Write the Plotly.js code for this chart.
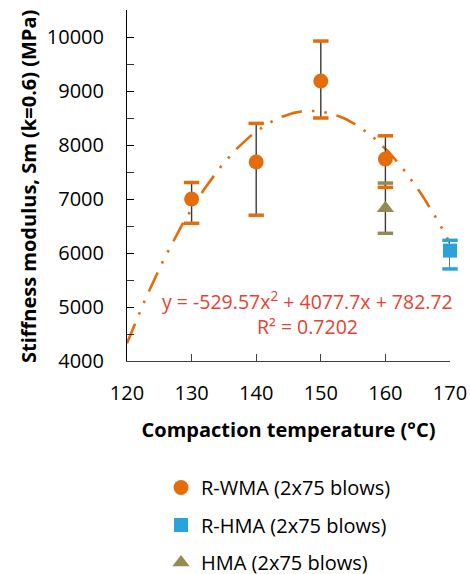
<!DOCTYPE html>
<html>
<head>
<meta charset="utf-8">
<script src="https://cdn.plot.ly/plotly-3.0.1.min.js"></script>
<style>html,body{margin:0;padding:0;background:#fff;}#chart{width:470px;height:574px;}</style>
</head>
<body>
<div id="chart"></div>
<script>
// Data
const rwmaTemp = [130, 140, 150, 160];
const rwmaSm = [7000, 7685, 9185, 7740];
const rwmaErrPlus = [305, 715, 740, 430];
const rwmaErrMinus = [450, 985, 685, 525];

const rhmaTemp = [170];
const rhmaSm = [6045];
const rhmaErrPlus = [190];
const rhmaErrMinus = [340];

const hmaTemp = [160];
const hmaSm = [6830];
const hmaErrPlus = [465];
const hmaErrMinus = [465];

// Polynomial trendline shown on the chart: y = a x^2 + b x + c, with x = series index (1 at 120 °C)
const trendCoef = [-529.57, 4077.7, 782.72];
const trendTemps = [];
for (let t = 120; t <= 170; t += 0.5) trendTemps.push(t);
const trendVals = trendTemps.map(t => { const x = (t - 110) / 10; return trendCoef[0]*x*x + trendCoef[1]*x + trendCoef[2]; });

const xTicks = [120, 130, 140, 150, 160, 170];
const yTitle = 'Stiffness modulus, Sm (k=0.6) (MPa)';
const xTitle = 'Compaction temperature (°C)';

const ORANGE = '#E46C0A', BLUE = '#29A3DC', OLIVE = '#948A54', RED = '#E8412F';
const FONT = 'Open Sans, sans-serif';

function errY(plus, minus) {
  return {type: 'data', symmetric: false, array: plus, arrayminus: minus, color: '#3a3a3a', thickness: 1.4, width: 0, visible: true};
}
function caps(xs, ys, plus, minus, color) {
  const cx = [], cy = [];
  xs.forEach((x, i) => { cx.push(x, x); cy.push(ys[i] + plus[i], ys[i] - minus[i]); });
  return {x: cx, y: cy, mode: 'markers', type: 'scatter', showlegend: false, hoverinfo: 'skip', cliponaxis: false,
    marker: {symbol: 'line-ew', size: 11, color: color, line: {color: color, width: 3.5}}};
}

const traces = [
  {x: trendTemps, y: trendVals, mode: 'lines', type: 'scatter', showlegend: false, hoverinfo: 'skip',
   line: {color: ORANGE, width: 2.6, dash: '21px,10px,2.5px,10px,2.5px,10px'}},
  {x: rwmaTemp, y: rwmaSm, name: 'R-WMA (2x75 blows)', legendgroup: 'a', mode: 'markers', type: 'scatter', cliponaxis: false,
   marker: {symbol: 'circle', size: 15, color: ORANGE}, error_y: errY(rwmaErrPlus, rwmaErrMinus)},
  {x: rhmaTemp, y: rhmaSm, name: 'R-HMA (2x75 blows)', legendgroup: 'b', mode: 'markers', type: 'scatter', cliponaxis: false,
   marker: {symbol: 'square', size: 14, color: BLUE}, error_y: errY(rhmaErrPlus, rhmaErrMinus)},
  {x: hmaTemp, y: hmaSm, name: 'HMA (2x75 blows)', legendgroup: 'c', mode: 'markers', type: 'scatter', cliponaxis: false,
   marker: {symbol: 'triangle-up', size: 15, color: OLIVE}, error_y: errY(hmaErrPlus, hmaErrMinus)},
  caps(rwmaTemp, rwmaSm, rwmaErrPlus, rwmaErrMinus, ORANGE),
  caps(rhmaTemp, rhmaSm, rhmaErrPlus, rhmaErrMinus, BLUE),
  caps(hmaTemp, hmaSm, hmaErrPlus, hmaErrMinus, OLIVE)
];

const layout = {
  width: 470, height: 574,
  margin: {l: 127, r: 20, t: 10, b: 213, autoexpand: false},
  paper_bgcolor: '#fff', plot_bgcolor: '#fff',
  font: {family: FONT, color: '#000'},
  showlegend: true,
  xaxis: {
    range: [120, 170], tickvals: xTicks, ticktext: xTicks.map(String),
    showgrid: false, zeroline: false, showline: true, linecolor: '#404040', linewidth: 1,
    ticks: 'inside', ticklen: 7, tickcolor: '#404040', tickwidth: 1,
    tickfont: {size: 20, family: FONT, color: '#000'}, ticklabelstandoff: 14,
    title: {text: xTitle, font: {size: 20, family: FONT, color: '#000', weight: 'bold'}, standoff: 17}
  },
  yaxis: {
    range: [4000, 10500], dtick: 1000, tick0: 4000, tickformat: 'd', automargin: false,
    showgrid: false, zeroline: false, showline: true, linecolor: '#000', linewidth: 1,
    ticks: 'inside', ticklen: 7, tickcolor: '#000', tickwidth: 1,
    minor: {dtick: 500, ticks: 'inside', ticklen: 7, tickcolor: '#333', showgrid: false},
    tickfont: {size: 20, family: FONT, color: '#000'}, ticklabelstandoff: 18
  },
  legend: {xref: 'container', yref: 'container', x: 161 / 470, y: 1 - 468 / 574, xanchor: 'left', yanchor: 'top', orientation: 'v',
    font: {size: 20, family: FONT, color: '#000'}, tracegroupgap: 8.5, bgcolor: 'rgba(0,0,0,0)'},
  annotations: [
    {xref: 'paper', yref: 'paper', x: (28 - 127) / 323, y: (361 - 187) / 351, xanchor: 'center', yanchor: 'middle', showarrow: false,
     textangle: -90, text: yTitle, font: {size: 20, family: FONT, color: '#000', weight: 'bold'}},
    {xref: 'paper', yref: 'paper', x: (307.5 - 127) / 323, y: (361 - 300) / 351, xanchor: 'center', yanchor: 'middle', showarrow: false,
     text: 'y = -529.57x<sup>2</sup> + 4077.7x + 782.72', font: {size: 19.5, family: FONT, color: RED}},
    {xref: 'paper', yref: 'paper', x: (307.5 - 127) / 323, y: (361 - 326.5) / 351, xanchor: 'center', yanchor: 'middle', showarrow: false,
     text: 'R² = 0.7202', font: {size: 19.5, family: FONT, color: RED}}
  ]
};

Plotly.newPlot('chart', traces, layout, {displayModeBar: false, staticPlot: true});
</script>
</body>
</html>
